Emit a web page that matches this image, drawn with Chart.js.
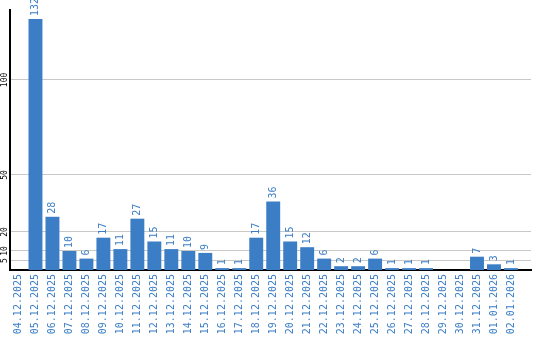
<!DOCTYPE html>
<html>
<head>
<meta charset="utf-8">
<script src="https://cdn.jsdelivr.net/npm/chart.js@4"></script>
<style>
    html, body { margin: 0; padding: 0; background: #fff; }
    #wrap { width: 540px; height: 340px; }
</style>
</head>
<body>
<div id="wrap"><canvas id="dayChart"></canvas></div>
<script>
// dates along the x axis
const days = ['04.12.2025', '05.12.2025', '06.12.2025', '07.12.2025', '08.12.2025',
    '09.12.2025', '10.12.2025', '11.12.2025', '12.12.2025', '13.12.2025',
    '14.12.2025', '15.12.2025', '16.12.2025', '17.12.2025', '18.12.2025',
    '19.12.2025', '20.12.2025', '21.12.2025', '22.12.2025', '23.12.2025',
    '24.12.2025', '25.12.2025', '26.12.2025', '27.12.2025', '28.12.2025',
    '29.12.2025', '30.12.2025', '31.12.2025', '01.01.2026', '02.01.2026'];
const counts = [null, 132, 28, 10, 6, 17, 11, 27, 15, 11,
    10, 9, 1, 1, 17, 36, 15, 12, 6, 2,
    2, 6, 1, 1, 1, null, null, 7, 3, 1];
const yTicks = [5, 10, 20, 50, 100];

const blue = '#3b7ec6';
const monoFont = 'DejaVu Sans Mono';

// value written above each bar, turned on its side
const barValues = {
    id: 'barValues',
    afterDatasetsDraw(chart) {
        const ctx = chart.ctx;
        const meta = chart.getDatasetMeta(0);
        ctx.save();
        ctx.fillStyle = blue;
        ctx.font = '10px "' + monoFont + '"';
        ctx.textAlign = 'left';
        ctx.textBaseline = 'middle';
        meta.data.forEach((bar, i) => {
            if (counts[i] == null) return;
            ctx.save();
            ctx.translate(bar.x, bar.y - 3);
            ctx.rotate(-Math.PI / 2);
            ctx.fillText(String(counts[i]), 0, 0);
            ctx.restore();
        });
        ctx.restore();
    }
};

// y tick labels are sideways too, centred on their grid line
const sideYLabels = {
    id: 'sideYLabels',
    afterDraw(chart) {
        const ctx = chart.ctx;
        const y = chart.scales.y;
        ctx.save();
        ctx.fillStyle = '#000';
        ctx.font = '8px "' + monoFont + '"';
        ctx.textAlign = 'center';
        ctx.textBaseline = 'middle';
        y.ticks.forEach(t => {
            ctx.save();
            ctx.translate(5, y.getPixelForValue(t.value));
            ctx.rotate(-Math.PI / 2);
            ctx.fillText(String(t.value), 0, 0);
            ctx.restore();
        });
        ctx.restore();
    }
};

const points = days.map((d, i) => ({ x: i, y: counts[i] }));

new Chart(document.getElementById('dayChart').getContext('2d'), {
    type: 'bar',
    data: {
        datasets: [{
            data: points,
            backgroundColor: blue,
            borderWidth: 0,
            barPercentage: 0.82,
            categoryPercentage: 1,
        }],
    },
    options: {
        responsive: true,
        maintainAspectRatio: false,
        animation: false,
        events: [],
        layout: { padding: { top: 10, right: 9, left: 0, bottom: 0 } },
        plugins: {
            legend: { display: false },
            tooltip: { enabled: false },
        },
        scales: {
            x: {
                type: 'linear',
                offset: false,
                min: -0.5,
                max: 30.18,
                afterBuildTicks(scale) {
                    scale.ticks = days.map((d, i) => ({ value: i }));
                },
                afterFit(scale) { scale.height = 70; },
                grid: { display: false, drawTicks: false, offset: false },
                border: { color: '#000', width: 2 },
                ticks: {
                    autoSkip: false,
                    minRotation: 90,
                    maxRotation: 90,
                    padding: 4,
                    color: blue,
                    font: { family: monoFont, size: 10 },
                    callback: (v) => days[v],
                },
            },
            y: {
                min: 0,
                max: 136.8,
                afterBuildTicks(scale) {
                    scale.ticks = yTicks.map(v => ({ value: v }));
                },
                afterFit(scale) { scale.width = 10; },
                grid: { color: '#c8c8c8', lineWidth: 1, drawTicks: false },
                border: { color: '#000', width: 2 },
                ticks: { display: false },
            },
        },
    },
    plugins: [barValues, sideYLabels],
});
</script>
</body>
</html>
